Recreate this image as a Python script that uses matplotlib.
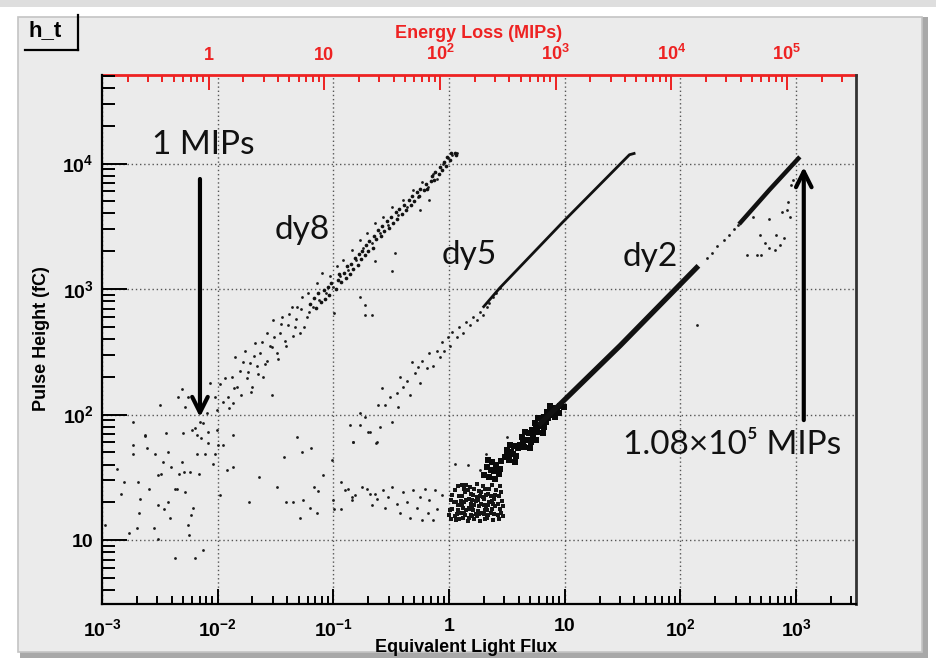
import numpy as np
import matplotlib
matplotlib.use("Agg")
import matplotlib.pyplot as plt
from matplotlib.ticker import LogLocator, FixedLocator, FuncFormatter, NullFormatter
from matplotlib.patches import Rectangle
from matplotlib.lines import Line2D

plt.rcParams['font.family'] = ['Liberation Sans', 'DejaVu Sans']
plt.rcParams['font.weight'] = 'bold'
plt.rcParams['mathtext.fontset'] = 'custom'
plt.rcParams['mathtext.rm'] = 'Liberation Sans:bold'
plt.rcParams['mathtext.bf'] = 'Liberation Sans:bold'
plt.rcParams['mathtext.default'] = 'rm'

# axis ranges
flux_lim = (1.0e-3, 3.3e3)
height_lim = (3.1, 5.07e4)
mips_per_flux = 120.0
flux_decades = [-3, -2, -1, 0, 1, 2, 3]
height_decades = [1, 2, 3, 4]
mips_decades = [0, 1, 2, 3, 4, 5]

# points, as (log10 flux, log10 pulse height)
noise_pts = [(-2.97, 1.12), (-2.84, 1.37), (-2.87, 1.57), (-2.81, 1.46), (-2.77, 1.06), (-2.73, 1.76),
             (-2.73, 1.69), (-2.69, 1.46), (-2.67, 1.33), (-2.68, 1.22), (-2.70, 1.10), (-2.63, 1.83),
             (-2.61, 1.73), (-2.59, 1.41), (-2.54, 1.69), (-2.55, 1.10), (-2.52, 1.52), (-2.52, 1.28),
             (-2.49, 1.53), (-2.47, 1.62), (-2.46, 1.25), (-2.45, 1.85), (-2.43, 1.70), (-2.43, 1.30),
             (-2.41, 1.18), (-2.40, 1.58), (-2.37, 1.41), (-2.35, 1.41), (-2.33, 1.53), (-2.31, 1.62),
             (-2.30, 1.85), (-2.29, 1.54), (-2.28, 1.38), (-2.26, 1.12), (-2.25, 1.04), (-2.24, 1.54),
             (-2.23, 1.20), (-2.21, 1.26), (-2.20, 1.89), (-2.18, 1.84), (-2.18, 1.69), (-2.16, 1.53),
             (-2.14, 1.81), (-2.13, 1.93), (-2.11, 1.69), (-2.08, 1.77), (-2.08, 1.86), (-2.04, 1.61),
             (-2.02, 1.69), (-2.01, 1.88), (-2.00, 1.76), (-1.98, 1.36), (-1.95, 1.76), (-1.92, 1.56),
             (-1.87, 1.58), (-1.87, 1.84), (-1.73, 1.30), (-1.64, 1.50), (-1.49, 1.42), (-1.43, 1.66),
             (-1.41, 1.30), (-1.35, 1.30), (-1.31, 1.82), (-1.29, 1.18), (-1.27, 1.70), (-1.26, 1.32),
             (-1.20, 1.26), (-1.19, 1.73), (-1.17, 1.42), (-1.14, 1.22), (-1.13, 1.39), (-1.09, 1.52),
             (-1.01, 1.64), (-1.00, 1.32), (-0.99, 1.25), (-0.93, 1.46), (-0.93, 1.25), (-0.87, 1.41),
             (-0.86, 1.92), (-0.84, 1.34), (-0.83, 1.78), (-0.77, 1.92), (-0.71, 1.41), (-0.70, 1.86),
             (-0.67, 1.28), (-0.64, 1.37), (-0.63, 1.77), (-2.37, 0.86), (-2.20, 0.86), (-2.13, 0.92),
             (-2.52, 1.01)]

dy8_pts = [(-2.73, 1.94), (-2.63, 1.84), (-2.50, 2.08), (-2.31, 2.20), (-2.34, 2.14), (-2.28, 2.06),
           (-2.26, 2.14), (-2.22, 1.88), (-2.15, 1.94), (-2.09, 2.01), (-2.07, 2.25), (-2.02, 2.14),
           (-2.01, 2.04), (-1.98, 2.24), (-1.94, 2.29), (-1.91, 2.14), (-1.88, 2.30), (-1.87, 2.09),
           (-1.85, 2.46), (-1.83, 2.22), (-1.81, 2.35), (-1.76, 2.51), (-1.75, 2.29), (-1.72, 2.41),
           (-1.70, 2.22), (-1.68, 2.57), (-1.66, 2.39), (-1.63, 2.49), (-1.61, 2.30), (-1.57, 2.65),
           (-1.57, 2.43), (-1.53, 2.54), (-1.53, 2.16), (-1.52, 2.75), (-1.49, 2.49), (-1.46, 2.65),
           (-1.44, 2.78), (-1.42, 2.59), (-1.39, 2.71), (-1.36, 2.86), (-1.33, 2.70), (-1.31, 2.86),
           (-1.29, 2.65), (-1.27, 2.94), (-1.23, 2.78), (-1.22, 2.97), (-1.18, 2.86), (-1.14, 3.05),
           (-1.12, 2.91), (-1.10, 3.13), (-1.06, 2.97), (-1.03, 3.10), (-1.00, 3.02), (-0.99, 2.81),
           (-0.97, 3.18), (-0.94, 3.10), (-0.92, 3.23), (-0.87, 3.15), (-0.84, 3.31), (-0.80, 3.23),
           (-0.77, 3.39), (-0.74, 3.33), (-0.71, 3.45), (-0.67, 3.37), (-0.64, 3.53), (-0.60, 3.45),
           (-0.57, 3.57), (-0.53, 3.51), (-0.49, 3.65), (-0.44, 3.59), (-0.40, 3.71), (-0.36, 3.65),
           (-0.31, 3.79), (-0.27, 3.73), (-0.23, 3.85), (-0.18, 3.81), (-0.14, 3.92), (-0.10, 3.88),
           (-0.05, 4.00), (-0.01, 4.04), (0.03, 4.07), (0.07, 4.08),
           (-0.77, 2.94), (-0.73, 2.87), (-0.73, 2.79), (-0.67, 2.79), (-0.64, 3.22), (-0.49, 3.14),
           (-0.47, 3.29), (-0.25, 3.63), (-0.17, 3.71),
           (-1.95, 2.10), (-1.90, 2.05), (-1.86, 2.21), (-1.80, 2.16), (-1.78, 2.42), (-1.74, 2.34),
           (-1.71, 2.18), (-1.69, 2.47), (-1.65, 2.32), (-1.62, 2.58), (-1.59, 2.40), (-1.55, 2.55),
           (-1.51, 2.62), (-1.48, 2.44), (-1.45, 2.72), (-1.41, 2.55), (-1.38, 2.80), (-1.35, 2.63),
           (-1.32, 2.76), (-1.28, 2.84), (-1.25, 2.70), (-1.21, 2.82)]
dy8_dense = [(-1.20, 2.88), (-1.17, 2.93), (-1.15, 2.85), (-1.13, 2.97), (-1.11, 2.90), (-1.08, 2.99),
             (-1.07, 2.92), (-1.05, 3.02), (-1.04, 2.95), (-1.02, 3.05), (-0.98, 3.00), (-0.96, 3.07),
             (-0.95, 3.12), (-0.93, 3.06), (-0.91, 3.13), (-0.89, 3.09), (-0.88, 3.18), (-0.86, 3.12),
             (-0.85, 3.20), (-0.83, 3.16), (-0.81, 3.25), (-0.79, 3.19), (-0.78, 3.28), (-0.76, 3.24),
             (-0.75, 3.30), (-0.73, 3.27), (-0.72, 3.35), (-0.70, 3.30), (-0.69, 3.38), (-0.66, 3.33),
             (-0.65, 3.42), (-0.63, 3.40), (-0.61, 3.47), (-0.59, 3.42), (-0.58, 3.50), (-0.56, 3.46),
             (-0.54, 3.54), (-0.52, 3.49), (-0.50, 3.57), (-0.48, 3.53), (-0.46, 3.61), (-0.45, 3.56),
             (-0.43, 3.64), (-0.41, 3.60), (-0.39, 3.67), (-0.37, 3.63), (-0.35, 3.71), (-0.33, 3.67),
             (-0.32, 3.74), (-0.30, 3.70), (-0.28, 3.77), (-0.26, 3.74), (-0.25, 3.80), (-0.22, 3.79),
             (-0.20, 3.84), (-0.19, 3.80), (-0.16, 3.86), (-0.15, 3.90), (-0.13, 3.87), (-0.12, 3.93),
             (-0.09, 3.92), (-0.08, 3.97), (-0.06, 3.95), (-0.04, 4.01), (-0.03, 3.98), (-0.02, 4.05),
             (0.01, 4.03), (0.02, 4.08), (0.05, 4.08), (0.06, 4.07)]

dy5_pts = [(-0.83, 1.78), (-0.77, 2.01), (-0.73, 1.98), (-0.68, 1.86), (-0.62, 1.78), (-0.60, 1.90),
           (-0.61, 2.08), (-0.58, 2.21), (-0.55, 2.08), (-0.51, 2.14), (-0.49, 1.94), (-0.45, 2.17),
           (-0.44, 2.06), (-0.42, 2.30), (-0.40, 2.22), (-0.36, 2.27), (-0.34, 2.16), (-0.32, 2.42),
           (-0.29, 2.33), (-0.27, 2.38), (-0.25, 2.25), (-0.23, 2.43), (-0.19, 2.37), (-0.17, 2.49),
           (-0.14, 2.39), (-0.10, 2.51), (-0.08, 2.46), (-0.06, 2.58), (-0.04, 2.51), (-0.01, 2.62),
           (0.01, 2.55), (0.03, 2.66), (0.07, 2.62), (0.09, 2.70), (0.12, 2.65), (0.15, 2.74),
           (0.18, 2.71), (0.21, 2.78), (0.24, 2.75), (0.27, 2.82), (0.29, 2.79), (0.33, 2.86),
           (0.35, 2.89), (0.38, 2.94), (0.41, 2.97), (0.44, 3.01),
           (-0.57, 1.40), (-0.53, 1.34), (-0.55, 1.26), (-0.49, 1.42), (-0.45, 1.29), (-0.42, 1.22),
           (-0.40, 1.38), (-0.36, 1.30), (-0.34, 1.18), (-0.31, 1.40), (-0.28, 1.26), (-0.25, 1.34),
           (-0.23, 1.16), (-0.21, 1.41), (-0.18, 1.22), (-0.17, 1.32), (-0.14, 1.16), (-0.12, 1.40),
           (-0.10, 1.25), (-0.06, 1.36), (-0.90, 1.40), (-0.81, 1.36), (-0.75, 1.42), (-0.68, 1.37),
           (-0.84, 1.32), (-0.62, 1.33)]
dy5_line = [(0.30, 2.86), (0.44, 3.01), (0.98, 3.53), (1.56, 4.07), (1.60, 4.08)]

dy2_cluster = [(0.00, 1.20), (0.02, 1.32), (0.03, 1.25), (0.05, 1.40), (0.06, 1.16), (0.08, 1.28),
               (0.09, 1.35), (0.10, 1.22), (0.11, 1.44), (0.12, 1.18), (0.13, 1.30), (0.14, 1.38),
               (0.15, 1.24), (0.16, 1.15), (0.17, 1.33), (0.18, 1.42), (0.19, 1.20), (0.20, 1.27),
               (0.21, 1.36), (0.22, 1.17), (0.23, 1.31), (0.24, 1.45), (0.25, 1.23), (0.26, 1.39),
               (0.27, 1.15), (0.28, 1.29), (0.29, 1.34), (0.30, 1.21), (0.31, 1.41), (0.32, 1.26),
               (0.33, 1.18), (0.34, 1.37), (0.35, 1.30), (0.36, 1.22), (0.37, 1.44), (0.38, 1.16),
               (0.39, 1.33), (0.40, 1.27), (0.41, 1.40), (0.42, 1.20), (0.43, 1.35), (0.44, 1.25),
               (0.46, 1.31), (0.47, 1.19), (0.04, 1.30), (0.07, 1.21), (0.12, 1.26), (0.16, 1.40),
               (0.19, 1.29), (0.23, 1.21), (0.27, 1.35), (0.30, 1.28), (0.33, 1.24), (0.36, 1.35),
               (0.10, 1.31), (0.21, 1.24), (0.25, 1.32), (0.14, 1.20), (0.18, 1.25), (0.29, 1.43),
               (0.31, 1.17), (0.08, 1.43), (0.02, 1.17), (0.38, 1.29), (0.44, 1.43),
               (0.01, 1.24), (0.03, 1.36), (0.05, 1.19), (0.06, 1.30), (0.08, 1.24), (0.09, 1.17),
               (0.11, 1.28), (0.11, 1.35), (0.13, 1.22), (0.15, 1.32), (0.15, 1.44), (0.17, 1.18),
               (0.17, 1.26), (0.19, 1.37), (0.20, 1.32), (0.20, 1.19), (0.22, 1.28), (0.22, 1.41),
               (0.24, 1.19), (0.24, 1.34), (0.26, 1.27), (0.26, 1.21), (0.28, 1.38), (0.28, 1.22),
               (0.30, 1.33), (0.31, 1.24), (0.32, 1.36), (0.34, 1.20), (0.34, 1.28), (0.35, 1.41),
               (0.37, 1.25), (0.37, 1.31), (0.39, 1.21), (0.40, 1.36), (0.42, 1.29), (0.43, 1.17),
               (0.45, 1.22), (0.45, 1.38), (0.47, 1.27), (0.13, 1.41)]
dy2_steps = [(0.30, 1.52), (0.33, 1.58), (0.35, 1.50), (0.37, 1.62), (0.39, 1.55), (0.41, 1.60),
             (0.43, 1.53), (0.45, 1.63), (0.34, 1.64), (0.40, 1.49), (0.44, 1.57), (0.36, 1.56),
             (0.48, 1.66), (0.50, 1.72), (0.52, 1.64), (0.54, 1.70), (0.56, 1.75), (0.58, 1.67),
             (0.60, 1.73), (0.53, 1.76), (0.57, 1.62), (0.50, 1.68), (0.62, 1.74), (0.55, 1.69),
             (0.61, 1.76), (0.63, 1.82), (0.65, 1.74), (0.67, 1.80), (0.69, 1.85), (0.71, 1.78),
             (0.73, 1.83), (0.75, 1.80), (0.66, 1.86), (0.70, 1.73), (0.64, 1.79), (0.72, 1.87),
             (0.72, 1.88), (0.74, 1.93), (0.76, 1.86), (0.78, 1.91), (0.80, 1.96), (0.82, 1.90),
             (0.84, 1.94), (0.86, 1.97), (0.77, 1.97), (0.81, 1.85), (0.75, 1.90),
             (0.82, 1.98), (0.85, 2.02), (0.88, 2.00), (0.90, 2.05), (0.93, 2.03), (0.96, 2.07),
             (0.99, 2.06), (0.87, 2.07), (0.92, 1.98), (0.95, 2.01)]
dy2_sparse = [(0.05, 1.61), (0.16, 1.60), (0.27, 1.56), (0.32, 1.69), (0.50, 1.82),
              (2.23, 3.25), (2.27, 3.29), (2.32, 3.34), (2.38, 3.39), (2.42, 3.43), (2.46, 3.48),
              (2.50, 3.51),
              (2.58, 3.27), (2.66, 3.27), (2.70, 3.27), (2.69, 3.43), (2.73, 3.37), (2.77, 3.33),
              (2.82, 3.31), (2.83, 3.43), (2.86, 3.35), (2.90, 3.41), (2.77, 3.56), (2.88, 3.61),
              (2.92, 3.63), (2.93, 3.69), (2.95, 3.57), (2.63, 3.57), (2.96, 3.83), (2.97, 3.87),
              (2.14, 2.71)]
dy2_line_low = [(0.79, 1.93), (1.48, 2.55), (2.14, 3.17)]
dy2_line_high = [(2.52, 3.53), (2.77, 3.79), (3.02, 4.04)]


def to_xy(pts):
    a = 10 ** np.array(pts, dtype=float)
    return a[:, 0], a[:, 1]


def root_log(v, pos):
    e = int(round(np.log10(v)))
    if e == 0:
        return '1'
    if e == 1:
        return '10'
    return r'$10^{%d}$' % e


W, H = 936, 668
fig = plt.figure(figsize=(W / 100, H / 100), dpi=100, facecolor='white')

# grey ROOT canvas panel with a soft frame
fig.patches.append(Rectangle((0, 1 - 7 / H), 1, 7 / H, transform=fig.transFigure,
                             facecolor='#dedede', edgecolor='none', zorder=-3))
fig.patches.append(Rectangle((20 / W, 10 / H), 908 / W, 641 / H, transform=fig.transFigure,
                             facecolor='#a8a8a8', edgecolor='none', zorder=-2))
fig.patches.append(Rectangle((18 / W, 16 / H), 904 / W, 635 / H, transform=fig.transFigure,
                             facecolor='#ebebeb', edgecolor='#c4c4c4', lw=1.2, zorder=-1))

ax = fig.add_axes([102 / W, 64 / H, 754 / W, 529 / H])
ax.set_facecolor('#ebebeb')
ax.set_xscale('log')
ax.set_yscale('log')
ax.set_xlim(*flux_lim)
ax.set_ylim(*height_lim)

ax.xaxis.set_major_locator(FixedLocator(10.0 ** np.array(flux_decades)))
ax.yaxis.set_major_locator(FixedLocator(10.0 ** np.array(height_decades)))
for axis in (ax.xaxis, ax.yaxis):
    axis.set_minor_locator(LogLocator(10, subs=np.arange(2, 10), numticks=20))
    axis.set_major_formatter(FuncFormatter(root_log))
    axis.set_minor_formatter(NullFormatter())

ax.grid(True, which='major', color='#555555', linestyle=(0, (1, 2)), lw=1.0)
ax.set_axisbelow(True)
ax.xaxis.set_ticks_position('bottom')
ax.yaxis.set_ticks_position('left')
ax.tick_params(axis='both', which='both', direction='in', width=1.4, colors='black', labelsize=14)
ax.tick_params(axis='x', which='major', length=11, pad=10)
ax.tick_params(axis='x', which='minor', length=6)
ax.tick_params(axis='y', which='major', length=18, pad=6)
ax.tick_params(axis='y', which='minor', length=9)
ax.spines['top'].set_visible(False)
ax.spines['left'].set_linewidth(1.6)
ax.spines['bottom'].set_linewidth(1.6)
ax.spines['right'].set_linewidth(2.0)
ax.spines['right'].set_color('#333333')

ax.set_xlabel('Equivalent Light Flux', fontsize=13, fontweight='bold')
ax.xaxis.set_label_coords(0.483, -0.083)
ax.xaxis.label.set_va('center')
ax.set_ylabel('Pulse Height (fC)', fontsize=13, fontweight='bold')
ax.yaxis.set_label_coords(-0.080, 0.501)
ax.yaxis.label.set_va('center')

# top axis: energy loss in MIPs
sec = ax.secondary_xaxis('top', functions=(lambda f: f * mips_per_flux, lambda m: m / mips_per_flux))
sec.xaxis.set_major_locator(FixedLocator(10.0 ** np.array(mips_decades)))
sec.xaxis.set_minor_locator(LogLocator(10, subs=np.arange(2, 10), numticks=20))
sec.xaxis.set_major_formatter(FuncFormatter(root_log))
sec.xaxis.set_minor_formatter(NullFormatter())
sec.tick_params(which='both', direction='in', colors='#ee2222', width=1.4, labelsize=13)
sec.tick_params(which='major', length=11, pad=8)
sec.tick_params(which='minor', length=5)
sec.spines['top'].set_color('#ee2222')
sec.spines['top'].set_linewidth(2.0)
sec.set_xlabel('Energy Loss (MIPs)', color='#ee2222', fontsize=13, fontweight='bold', labelpad=4)

# data
dot = dict(s=4, c='#1a1a1a', marker='o', linewidths=0, zorder=3)
ax.scatter(*to_xy(noise_pts), **dot)
ax.scatter(*to_xy(dy8_pts), **dot)
ax.scatter(*to_xy(dy8_dense), s=7, c='#111111', marker='o', linewidths=0, zorder=3)
ax.scatter(*to_xy(dy5_pts), **dot)
ax.scatter(*to_xy(dy2_cluster), s=9, c='#151515', marker='s', linewidths=0, zorder=3)
ax.scatter(*to_xy(dy2_steps), s=16, c='#0a0a0a', marker='s', linewidths=0, zorder=3)
ax.scatter(*to_xy(dy2_sparse), **dot)
ax.plot(*to_xy(dy5_line), color='#111111', lw=2.0, zorder=3)
ax.plot(*to_xy(dy2_line_low), color='#111111', lw=3.8, zorder=3)
ax.plot(*to_xy(dy2_line_high), color='#111111', lw=3.2, zorder=3)

# annotations
note = dict(family=['Lato', 'DejaVu Sans'], fontweight='normal', color='#111111',
            ha='center', va='center', zorder=5)
arrow = dict(arrowstyle='->', lw=3, color='black', mutation_scale=28, shrinkA=0, shrinkB=0)
ax.text(0.00746, 14030, '1 MIPs', fontsize=24, **note)
ax.annotate('', xy=(0.00703, 95.5), xytext=(0.00703, 7530), arrowprops=arrow, zorder=5)
ax.text(0.0537, 2950, 'dy8', fontsize=24, **note)
ax.text(1.51, 1862, 'dy5', fontsize=24, **note)
ax.text(54.5, 1800, 'dy2', fontsize=24, **note)
ax.text(279, 57.1, '1.08\u00d710\u2075 MIPs', fontsize=24, **note)
ax.annotate('', xy=(1167, 9380), xytext=(1167, 90.4), arrowprops=arrow, zorder=5)

# histogram title box
fig.text(28 / W, 1 - 31 / H, 'h_t', fontsize=16, fontweight='bold', va='center', ha='left')
fig.add_artist(Line2D([25 / W, 78 / W], [1 - 50 / H, 1 - 50 / H], transform=fig.transFigure, color='black', lw=1.6))
fig.add_artist(Line2D([78 / W, 78 / W], [1 - 15 / H, 1 - 50 / H], transform=fig.transFigure, color='black', lw=1.6))

fig.savefig('out.png', dpi=100, facecolor=fig.get_facecolor())
